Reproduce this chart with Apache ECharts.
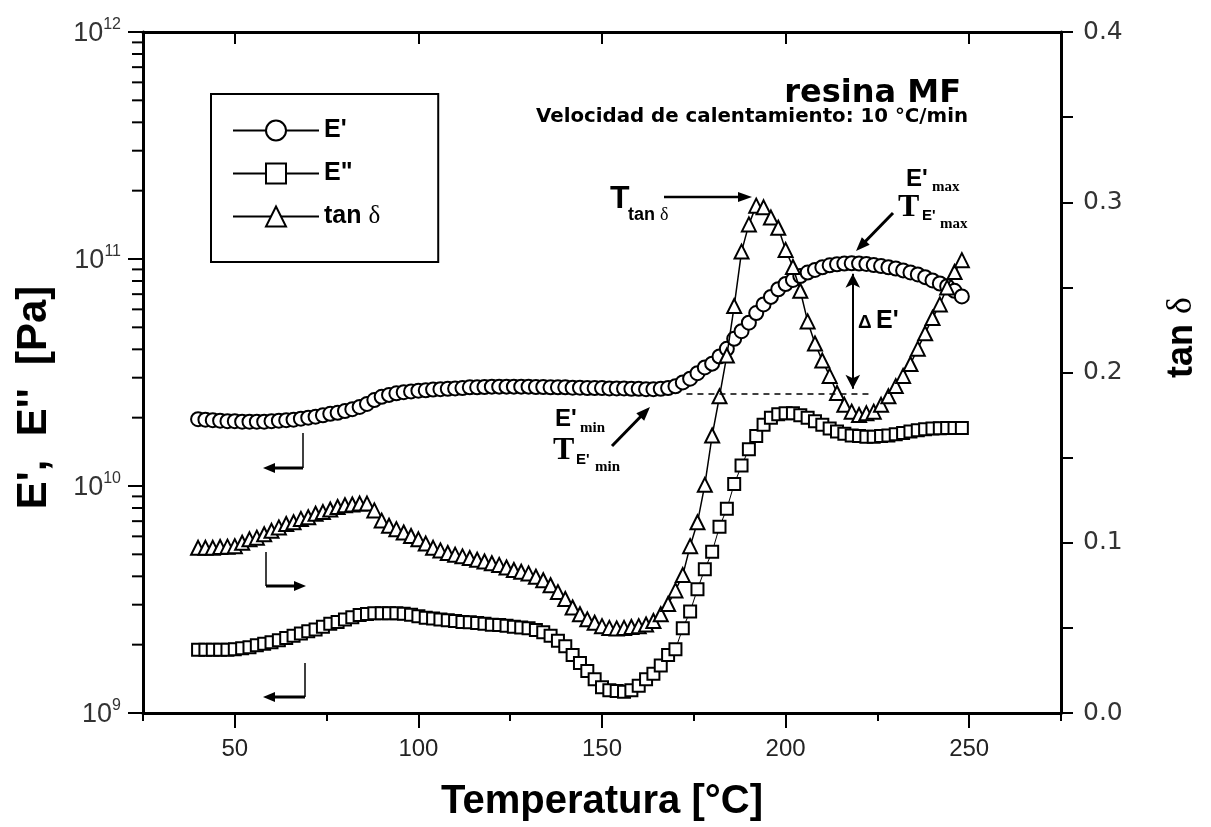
<!DOCTYPE html>
<html><head><meta charset="utf-8">
<script src="https://cdn.jsdelivr.net/npm/echarts@6/dist/echarts.min.js"></script>
<style>html,body{margin:0;padding:0;background:#fff}#chart{width:1211px;height:827px}</style>
</head><body><div id="chart"></div>
<script>
// Temperature grid [°C]
const temperature = [40,42,44,46,48,50,52,54,56,58,60,62,64,66,68,70,72,74,76,78,80,82,84,86,88,90,92,94,96,98,100,102,104,106,108,110,112,114,116,118,120,122,124,126,128,130,132,134,136,138,140,142,144,146,148,150,152,154,156,158,160,162,164,166,168,170,172,174,176,178,180,182,184,186,188,190,192,194,196,198,200,202,204,206,208,210,212,214,216,218,220,222,224,226,228,230,232,234,236,238,240,242,244,246,248];
// E' (storage modulus) in units of 1e10 Pa
const storageModulusE10 = [1.97,1.96,1.95,1.94,1.93,1.93,1.92,1.92,1.92,1.92,1.93,1.94,1.95,1.96,1.98,2.00,2.02,2.05,2.08,2.10,2.14,2.18,2.23,2.30,2.39,2.47,2.52,2.56,2.59,2.61,2.63,2.64,2.66,2.67,2.68,2.69,2.70,2.72,2.72,2.73,2.74,2.74,2.74,2.74,2.74,2.74,2.73,2.73,2.72,2.72,2.72,2.71,2.71,2.70,2.70,2.70,2.69,2.69,2.69,2.68,2.68,2.67,2.67,2.68,2.70,2.75,2.86,2.97,3.14,3.33,3.46,3.72,4.02,4.45,4.81,5.24,5.78,6.31,6.81,7.36,7.76,8.09,8.41,8.71,8.95,9.20,9.38,9.48,9.55,9.57,9.55,9.51,9.40,9.31,9.20,9.08,8.91,8.73,8.55,8.32,8.05,7.80,7.59,7.24,6.84];
// E'' (loss modulus) in units of 1e9 Pa
const lossModulusE9 = [1.90,1.90,1.90,1.90,1.90,1.91,1.93,1.95,1.99,2.02,2.05,2.09,2.14,2.19,2.24,2.29,2.33,2.40,2.47,2.52,2.58,2.64,2.70,2.73,2.75,2.75,2.75,2.75,2.74,2.71,2.67,2.63,2.61,2.58,2.56,2.54,2.52,2.51,2.49,2.47,2.45,2.44,2.42,2.40,2.38,2.36,2.32,2.27,2.19,2.08,1.97,1.80,1.66,1.53,1.41,1.30,1.26,1.25,1.24,1.26,1.32,1.41,1.49,1.62,1.80,1.91,2.36,2.80,3.51,4.30,5.13,6.61,7.94,10.2,12.3,14.5,16.6,18.6,20.0,20.7,20.9,20.9,20.5,20.0,19.3,18.6,17.9,17.4,17.0,16.7,16.6,16.5,16.5,16.6,16.7,16.9,17.1,17.4,17.6,17.8,17.9,17.95,18.0,18.0,18.0];
// tan delta
const tanDelta = [0.097,0.097,0.097,0.0975,0.0977,0.098,0.100,0.102,0.103,0.105,0.107,0.109,0.111,0.112,0.114,0.115,0.117,0.118,0.1195,0.121,0.122,0.1225,0.123,0.123,0.119,0.113,0.110,0.108,0.106,0.104,0.102,0.0995,0.097,0.0955,0.094,0.093,0.092,0.091,0.090,0.089,0.088,0.087,0.0855,0.084,0.083,0.082,0.080,0.078,0.075,0.071,0.067,0.062,0.058,0.055,0.053,0.051,0.050,0.0497,0.050,0.0505,0.051,0.052,0.054,0.058,0.064,0.072,0.081,0.098,0.112,0.134,0.163,0.186,0.210,0.239,0.271,0.287,0.298,0.297,0.291,0.285,0.272,0.262,0.248,0.230,0.217,0.207,0.198,0.188,0.181,0.177,0.175,0.176,0.177,0.181,0.186,0.192,0.198,0.205,0.214,0.223,0.232,0.240,0.250,0.259,0.266];

const xMajorTicks = [50,100,150,200,250];
const xMinorTicks = [25,75,125,175,225,275];
const tanTickLabels = [0,0.1,0.2,0.3,0.4];
// E'min level (dashed line) and E'max for the Delta E' arrow, Pa
const eMinLevel = 2.54e10, eMinStart = 173, eMinEnd = 223;
const deltaArrowT = 218.3, deltaArrowTop = 8.6e10, deltaArrowBottom = 2.68e10;

const SANS = "'Liberation Sans', Arial, Helvetica, sans-serif";
const SERIF = "'Liberation Serif', 'Times New Roman', serif";
const DEJA = "'DejaVu Sans', Verdana, sans-serif";

// minor log tick positions (log10 of 2..9 x 10^e), placed on a linear helper axis spanning 9..12
const minorLogTicks = [];
for (let e = 9; e < 12; e++) for (let k = 2; k <= 9; k++) minorLogTicks.push(+(e + Math.log10(k)).toFixed(6));

const ePrime = temperature.map((t, i) => [t, storageModulusE10[i] * 1e10]);
const eDouble = temperature.map((t, i) => [t, lossModulusE9[i] * 1e9]);
const tanD = temperature.map((t, i) => [t, tanDelta[i]]);

const axisLineStyle = {color: '#000', width: 3};
const tickStyle = {color: '#000', width: 2};

function arrowHead(x, y, ang, len, w) {
  const bx = x - len * Math.cos(ang), by = y - len * Math.sin(ang);
  const px = -Math.sin(ang) * w / 2, py = Math.cos(ang) * w / 2;
  return {type: 'polygon', z: 100, silent: true, shape: {points: [[x, y], [bx + px, by + py], [bx - px, by - py]]}, style: {fill: '#000'}};
}
function arrow(points, lw, len, w) {
  const n = points.length;
  const [x2, y2] = points[n - 1], [x1, y1] = points[n - 2];
  const ang = Math.atan2(y2 - y1, x2 - x1);
  const pts = points.slice();
  pts[n - 1] = [x2 - len * 0.7 * Math.cos(ang), y2 - len * 0.7 * Math.sin(ang)];
  return [
    {type: 'polyline', z: 100, silent: true, shape: {points: pts}, style: {stroke: '#000', lineWidth: lw, fill: null}},
    arrowHead(x2, y2, ang, len, w)
  ];
}
function line(points, lw) {
  return {type: 'polyline', z: 100, silent: true, shape: {points}, style: {stroke: '#000', lineWidth: lw, fill: null}};
}
function txt(x, y, text, font, align) {
  return {type: 'text', z: 100, silent: true, x, y, style: {text, font, fill: '#000', align: align || 'left', verticalAlign: 'middle'}};
}

const graphics = [].concat(
  txt(961, 94, 'resina MF', `bold 32px ${DEJA}`, 'right'),
  txt(968, 117, 'Velocidad de calentamiento: 10 °C/min', `bold 19.8px ${DEJA}`, 'right'),
  // T tan delta
  txt(610, 199, 'T', `bold 32px ${SANS}`),
  {type: 'text', z: 100, silent: true, x: 628, y: 215, style: {text: '{a|tan }{d|δ}', fill: '#000', align: 'left', verticalAlign: 'middle',
    rich: {a: {font: `bold 18px ${SANS}`, fill: '#000'}, d: {font: `18px ${SERIF}`, fill: '#000'}}}},
  arrow([[664, 197], [752, 197]], 2.5, 14, 10),
  // E'max / T E'max
  txt(906, 179, "E'", `bold 24px ${SANS}`),
  txt(932, 187, 'max', `bold 15px ${SERIF}`),
  txt(898, 208, 'T', `bold 32px ${SERIF}`),
  txt(922, 216, "E'", `bold 15px ${SANS}`),
  txt(940, 224, 'max', `bold 15px ${SERIF}`),
  arrow([[893, 213], [856, 251]], 3, 14, 11),
  // Delta E'
  txt(858, 323, 'Δ', `bold 19px ${SANS}`),
  txt(876, 321, "E'", `bold 25px ${SANS}`),
  // E'min / T E'min
  txt(555, 419, "E'", `bold 24px ${SANS}`),
  txt(580, 428, 'min', `bold 15px ${SERIF}`),
  txt(553, 451, 'T', `bold 32px ${SERIF}`),
  txt(576, 460, "E'", `bold 15px ${SANS}`),
  txt(595, 467, 'min', `bold 15px ${SERIF}`),
  arrow([[612, 446], [650, 407]], 3, 14, 11),
  // axis-pointer arrows next to the curves
  line([[303, 433], [303, 468]], 1.5),
  arrow([[303, 468], [263, 468]], 3, 12, 10),
  line([[266, 552], [266, 586]], 1.5),
  arrow([[266, 586], [306, 586]], 3, 12, 10),
  line([[305, 663], [305, 697]], 1.5),
  arrow([[305, 697], [263, 697]], 3, 12, 10)
);

const option = {
  backgroundColor: '#fff',
  animation: false,
  grid: [
    {left: 143, right: 150, top: 32, bottom: 114},
    {left: 143, right: 150, top: 32, bottom: 114}
  ],
  legend: {
    left: 211, top: 94, orient: 'vertical',
    itemWidth: 86, itemHeight: 25, itemGap: 18,
    padding: [24, 58, 33, 21],
    borderColor: '#000', borderWidth: 2, backgroundColor: '#fff',
    selectedMode: false,
    data: ["E'", 'E"', 'tan δ'],
    formatter: n => n === 'tan δ' ? '{b|tan }{d|δ}' : '{b|' + n + '}',
    textStyle: {
      color: '#000',
      rich: {
        b: {fontFamily: SANS, fontWeight: 'bold', fontSize: 25, color: '#000'},
        d: {fontFamily: SERIF, fontSize: 25, color: '#000'}
      }
    }
  },
  xAxis: [
    {
      type: 'value', gridIndex: 0, min: 25, max: 275, position: 'bottom',
      axisLine: {show: true, onZero: false, lineStyle: axisLineStyle},
      axisTick: {show: true, customValues: xMajorTicks, length: 15, lineStyle: tickStyle},
      axisLabel: {customValues: xMajorTicks, margin: 24, fontSize: 24, fontFamily: SANS, color: '#222'},
      splitLine: {show: false},
      name: 'Temperatura [°C]', nameLocation: 'middle', nameGap: 69,
      nameTextStyle: {fontFamily: SANS, fontWeight: 'bold', fontSize: 40, color: '#000'}
    },
    {
      type: 'value', gridIndex: 0, min: 25, max: 275, position: 'top',
      axisLine: {show: true, onZero: false, lineStyle: axisLineStyle},
      axisTick: {show: true, inside: true, customValues: xMajorTicks, length: 12, lineStyle: tickStyle},
      axisLabel: {show: false}, splitLine: {show: false}
    },
    {
      type: 'value', gridIndex: 1, min: 25, max: 275, position: 'bottom',
      axisLine: {show: false, onZero: false},
      axisTick: {show: true, customValues: xMinorTicks, length: 8, lineStyle: tickStyle},
      axisLabel: {show: false}, splitLine: {show: false}
    }
  ],
  yAxis: [
    {
      type: 'log', logBase: 10, gridIndex: 0, min: 1e9, max: 1e12, position: 'left',
      axisLine: {show: true, onZero: false, lineStyle: axisLineStyle},
      axisTick: {show: true, length: 15, lineStyle: tickStyle},
      axisLabel: {
        margin: 22,
        formatter: v => '{b|10}{s|' + Math.round(Math.log10(v)) + '}',
        rich: {
          b: {fontFamily: SANS, fontSize: 27, color: '#333', lineHeight: 30, verticalAlign: 'bottom'},
          s: {fontFamily: SANS, fontSize: 16, color: '#333', lineHeight: 30, verticalAlign: 'top'}
        }
      },
      splitLine: {show: false},
      name: "E',  E''  [Pa]", nameLocation: 'middle', nameRotate: 90, nameGap: 88,
      nameTextStyle: {fontFamily: SANS, fontWeight: 'bold', fontSize: 42, color: '#000', padding: [0, 50, 0, 0]}
    },
    {
      type: 'value', gridIndex: 0, min: 0, max: 0.4, interval: 0.05, position: 'right',
      axisLine: {show: true, onZero: false, lineStyle: axisLineStyle},
      axisTick: {show: true, length: 12, lineStyle: tickStyle},
      axisLabel: {customValues: tanTickLabels, formatter: v => v.toFixed(1), margin: 22, fontSize: 25, fontFamily: DEJA, color: '#333'},
      splitLine: {show: false},
      name: '{a|tan }{d|δ}', nameLocation: 'middle', nameRotate: 90, nameGap: 103,
      nameTextStyle: {padding: [0, 0, 0, 70], rich: {
        a: {fontFamily: SANS, fontWeight: 'bold', fontSize: 36, color: '#000'},
        d: {fontFamily: SERIF, fontSize: 36, color: '#000'}
      }}
    },
    {
      // helper axis: log10 of the modulus, same extent as the log axis, used only for minor ticks
      type: 'value', gridIndex: 1, min: 9, max: 12, position: 'left',
      axisLine: {show: false, onZero: false}, axisTick: {show: false},
      axisLabel: {show: false}, splitLine: {show: false}
    }
  ],
  series: [
    {
      name: "E'", type: 'line', xAxisIndex: 0, yAxisIndex: 0, data: ePrime,
      symbol: 'emptyCircle', symbolSize: 14, showSymbol: true,
      lineStyle: {color: '#000', width: 1}, itemStyle: {color: '#000', borderColor: '#000', borderWidth: 1.5},
      emphasis: {disabled: true}, z: 3,
      markLine: {
        silent: true, animation: false, label: {show: false},
        data: [
          [{coord: [eMinStart, eMinLevel], symbol: 'none', lineStyle: {type: [6, 5], width: 1.5, color: '#000'}},
           {coord: [eMinEnd, eMinLevel], symbol: 'none'}],
          [{coord: [deltaArrowT, deltaArrowTop], symbol: 'arrow', symbolSize: [11, 14], lineStyle: {type: 'solid', width: 2, color: '#000'}},
           {coord: [deltaArrowT, deltaArrowBottom], symbol: 'arrow', symbolSize: [11, 14]}]
        ],
        lineStyle: {color: '#000'}, itemStyle: {color: '#000'}
      }
    },
    {
      name: 'E"', type: 'line', xAxisIndex: 0, yAxisIndex: 0, data: eDouble,
      symbol: 'emptyRect', symbolSize: 12, showSymbol: true,
      lineStyle: {color: '#000', width: 1}, itemStyle: {color: '#000', borderColor: '#000', borderWidth: 1.5},
      emphasis: {disabled: true}, z: 3
    },
    {
      name: 'tan δ', type: 'line', xAxisIndex: 0, yAxisIndex: 1, data: tanD,
      symbol: 'emptyTriangle', symbolSize: 14, showSymbol: true,
      lineStyle: {color: '#000', width: 1.5}, itemStyle: {color: '#000', borderColor: '#000', borderWidth: 1.5},
      emphasis: {disabled: true}, z: 4
    }
  ],
  graphic: {elements: graphics}
};

const chart = echarts.init(document.getElementById('chart'));
chart.setOption(option);
// minor ticks of the log axis, positioned through the helper axis scale
const axisX = chart.convertToPixel({xAxisIndex: 0}, 25);
const minorTickEls = minorLogTicks.map((lv, i) => {
  const y = chart.convertToPixel({yAxisIndex: 2}, lv);
  return {type: 'rect', id: 'mt' + i, z: 100, silent: true, shape: {x: axisX - 11, y: y - 1, width: 11, height: 2}, style: {fill: '#000'}};
});
chart.setOption({graphic: {elements: graphics.concat(minorTickEls)}});
</script>
</body></html>
